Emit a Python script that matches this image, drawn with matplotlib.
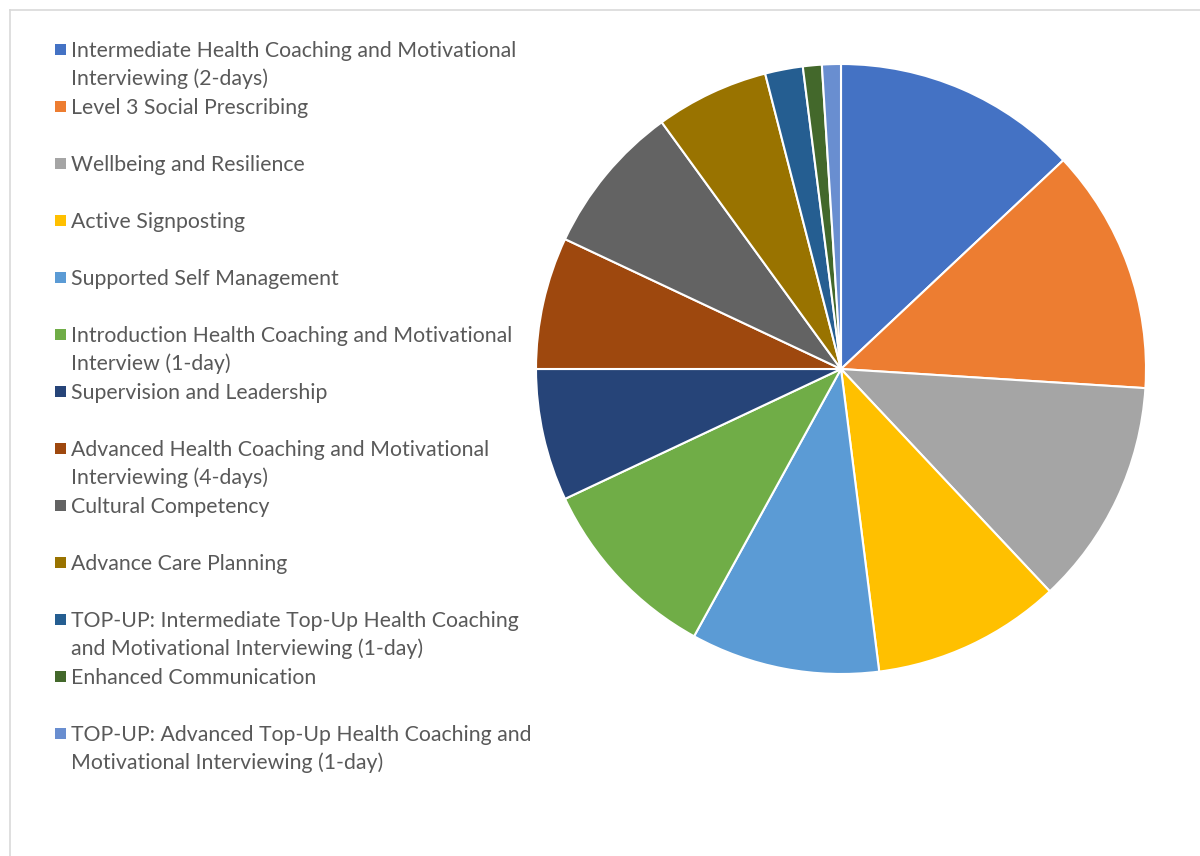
import matplotlib
matplotlib.use("Agg")
import matplotlib.pyplot as plt
from matplotlib.patches import Rectangle

# Share of delegates by training course
courses = [
    "Intermediate Health Coaching and Motivational\nInterviewing (2-days)",
    "Level 3 Social Prescribing",
    "Wellbeing and Resilience",
    "Active Signposting",
    "Supported Self Management",
    "Introduction Health Coaching and Motivational\nInterview (1-day)",
    "Supervision and Leadership",
    "Advanced Health Coaching and Motivational\nInterviewing (4-days)",
    "Cultural Competency",
    "Advance Care Planning",
    "TOP-UP: Intermediate Top-Up Health Coaching\nand Motivational Interviewing (1-day)",
    "Enhanced Communication",
    "TOP-UP: Advanced Top-Up Health Coaching and\nMotivational Interviewing (1-day)",
]
shares = [13, 13, 12, 10, 10, 10, 7, 7, 8, 6, 2, 1, 1]

colors = ["#4472C4", "#ED7D31", "#A5A5A5", "#FFC000", "#5B9BD5", "#70AD47",
          "#264478", "#9E480E", "#636363", "#997300", "#255E91", "#43682B",
          "#698ED0"]

W, H = 1200, 856
fig = plt.figure(figsize=(W / 100, H / 100), dpi=100)
fig.patch.set_facecolor("white")

# chart-area frame
fig.add_artist(plt.Line2D([9.5 / W, 9.5 / W], [0, 1 - 9.5 / H], color="#D9D9D9", lw=1.2,
                          transform=fig.transFigure))
fig.add_artist(plt.Line2D([9.5 / W, 1], [1 - 9.5 / H, 1 - 9.5 / H], color="#D9D9D9", lw=1.2,
                          transform=fig.transFigure))

# pie
cx, cy, r = 841, 369, 305
ax = fig.add_axes([(cx - r) / W, 1 - (cy + r) / H, 2 * r / W, 2 * r / H])
ax.pie(shares, colors=colors, startangle=90, counterclock=False, radius=1,
       wedgeprops=dict(edgecolor="white", linewidth=1.5))
ax.set_xlim(-1, 1)
ax.set_ylim(-1, 1)
ax.set_aspect("auto")
ax.axis("off")

# legend
y0, step = 49, 57
for i, (name, c) in enumerate(zip(courses, colors)):
    y = y0 + i * step
    fig.add_artist(Rectangle(((55) / W, 1 - (y + 5.5) / H), 11 / W, 11 / H,
                             transform=fig.transFigure, facecolor=c, edgecolor="none"))
    fig.text(71 / W, 1 - (y - 8) / H, name, fontsize=15.3, family="Lato",
             color="#595959", va="top", ha="left", linespacing=1.45)

fig.savefig("out.png", dpi=100, facecolor="white")
